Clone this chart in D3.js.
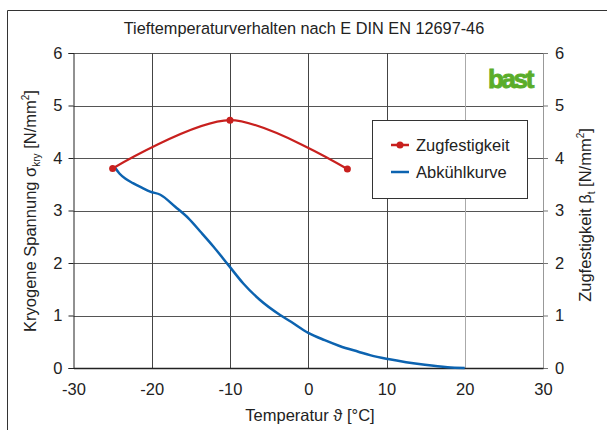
<!DOCTYPE html>
<html><head><meta charset="utf-8">
<script src="https://cdn.jsdelivr.net/npm/d3@7"></script>
<style>
body{margin:0;background:#fff;}
svg{display:block;font-family:"Liberation Sans",Arial,sans-serif;}
</style></head>
<body><svg id="c" width="607" height="430"></svg>
<script>
const xTicks = [-30,-20,-10,0,10,20,30];
const yTicks = [0,1,2,3,4,5,6];
const zugTemp = [-25,-10,5];
const zugVal = [3.80,4.72,3.79];
const abkTemp = [-24.7,-24.1,-23.3,-22.4,-21.2,-20.2,-18.9,-17.0,-15.3,-13.8,-12.1,-10.2,-8.3,-6.2,-3.6,-2.2,0,2.1,4.0,6.4,8.0,10.2,12.5,14.9,17.8,20];
const abkVal  = [3.82,3.70,3.60,3.52,3.43,3.36,3.30,3.07,2.85,2.60,2.31,1.96,1.61,1.30,1.01,0.88,0.67,0.53,0.42,0.31,0.24,0.17,0.11,0.06,0.015,0];

const FS = 16.5;
const svg = d3.select("#c");
const x = d3.scaleLinear().domain([-30,30]).range([73.5,543]);
const y = d3.scaleLinear().domain([0,6]).range([368,53]);

// outer frame
svg.append("path").attr("d","M7.5,430 L7.5,10.5 L607,10.5").attr("fill","none").attr("stroke","#333").attr("stroke-width",1);

// title
svg.append("text").attr("x",304).attr("y",34).attr("text-anchor","middle")
  .attr("font-size",16.3).attr("fill","#222").text("Tieftemperaturverhalten nach E DIN EN 12697-46");

// gridlines
const g = svg.append("g");
g.selectAll(".hg").data(yTicks.filter(d=>d>0)).enter().append("line")
  .attr("x1",x(-30)).attr("x2",x(30)).attr("y1",d=>Math.round(y(d))+0.5).attr("y2",d=>Math.round(y(d))+0.5)
  .attr("stroke","#555").attr("stroke-width",1);
g.selectAll(".vg").data([-20,-10,0,10,20]).enter().append("line")
  .attr("x1",d=>Math.round(x(d))+0.5).attr("x2",d=>Math.round(x(d))+0.5).attr("y1",y(6)).attr("y2",y(0))
  .attr("stroke",d=>d===20?"#aaa":"#444").attr("stroke-width",1);

// axes
const fmt = d=>String(d);
const axL = svg.append("g").attr("transform",`translate(${x(-30)},0)`)
  .call(d3.axisLeft(y).tickValues(yTicks).tickSize(5).tickPadding(6).tickFormat(fmt));
const axR = svg.append("g").attr("transform",`translate(${x(30)},0)`)
  .call(d3.axisRight(y).tickValues(yTicks).tickSize(5).tickPadding(7).tickFormat(fmt));
const axB = svg.append("g").attr("transform",`translate(0,${y(0)})`)
  .call(d3.axisBottom(x).tickValues(xTicks).tickSize(0).tickPadding(15).tickFormat(fmt));
[axL,axR,axB].forEach(a=>{
  a.selectAll("text").attr("font-size",FS).attr("fill","#222").attr("font-family","Liberation Sans, Arial, sans-serif");
});
axL.select(".domain").attr("stroke","#222");
axL.selectAll(".tick line").attr("stroke","#222");
axR.select(".domain").attr("stroke","#999");
axR.selectAll(".tick line").attr("stroke","#777");
axB.select(".domain").attr("stroke","#222").attr("stroke-width",1.3);

// axis titles
svg.append("text").attr("transform",`translate(36,${211}) rotate(-90)`).attr("text-anchor","middle")
  .attr("font-size",FS).attr("fill","#222")
  .html('Kryogene Spannung σ<tspan font-size="10" dy="4">kry</tspan><tspan dy="-4"> [N/mm</tspan><tspan font-size="10" dy="-7">2</tspan><tspan dy="7">]</tspan>');
svg.append("text").attr("transform",`translate(591,${215}) rotate(-90)`).attr("text-anchor","middle")
  .attr("font-size",FS).attr("fill","#222")
  .html('Zugfestigkeit β<tspan font-size="10" dy="4">t</tspan><tspan dy="-4"> [N/mm</tspan><tspan font-size="10" dy="-7">2</tspan><tspan dy="7">]</tspan>');
svg.append("text").attr("x",310).attr("y",421).attr("text-anchor","middle")
  .attr("font-size",FS).attr("fill","#222").text("Temperatur ϑ [°C]");

// logo
svg.append("text").attr("x",510).attr("y",88).attr("text-anchor","middle")
  .attr("font-size",26).attr("font-weight","bold").attr("letter-spacing",-2.4)
  .attr("fill","#5aad2a").attr("stroke","#5aad2a").attr("stroke-width",0.9).text("bast");

// series
const line = d3.line().x(d=>x(d[0])).y(d=>y(d[1]));
const abk = abkTemp.map((t,i)=>[t,abkVal[i]]);
svg.append("path").datum(abk).attr("d",line.curve(d3.curveMonotoneX))
  .attr("fill","none").attr("stroke","#0c63b0").attr("stroke-width",2.5);
const zug = zugTemp.map((t,i)=>[t,zugVal[i]]);
svg.append("path").datum(zug).attr("d",d3.line().x(d=>x(d[0])).y(d=>y(d[1])).curve(d3.curveCardinal.tension(0.1)))
  .attr("fill","none").attr("stroke","#c8201e").attr("stroke-width",2.2);
svg.selectAll(".zp").data(zug).enter().append("circle")
  .attr("cx",d=>x(d[0])).attr("cy",d=>y(d[1])).attr("r",3.5).attr("fill","#c8201e");

// legend
const lg = svg.append("g");
lg.append("rect").attr("x",372.5).attr("y",120.5).attr("width",155).attr("height",78)
  .attr("fill","#fff").attr("stroke","#333").attr("stroke-width",1);
lg.append("line").attr("x1",391).attr("x2",409).attr("y1",145).attr("y2",145).attr("stroke","#c8201e").attr("stroke-width",2.5);
lg.append("circle").attr("cx",400).attr("cy",145).attr("r",3.5).attr("fill","#c8201e");
lg.append("text").attr("x",416).attr("y",151).attr("font-size",FS).attr("fill","#222").text("Zugfestigkeit");
lg.append("line").attr("x1",391).attr("x2",409).attr("y1",172).attr("y2",172).attr("stroke","#0c63b0").attr("stroke-width",2.5);
lg.append("text").attr("x",416).attr("y",178).attr("font-size",FS).attr("fill","#222").text("Abkühlkurve");
</script></body></html>
